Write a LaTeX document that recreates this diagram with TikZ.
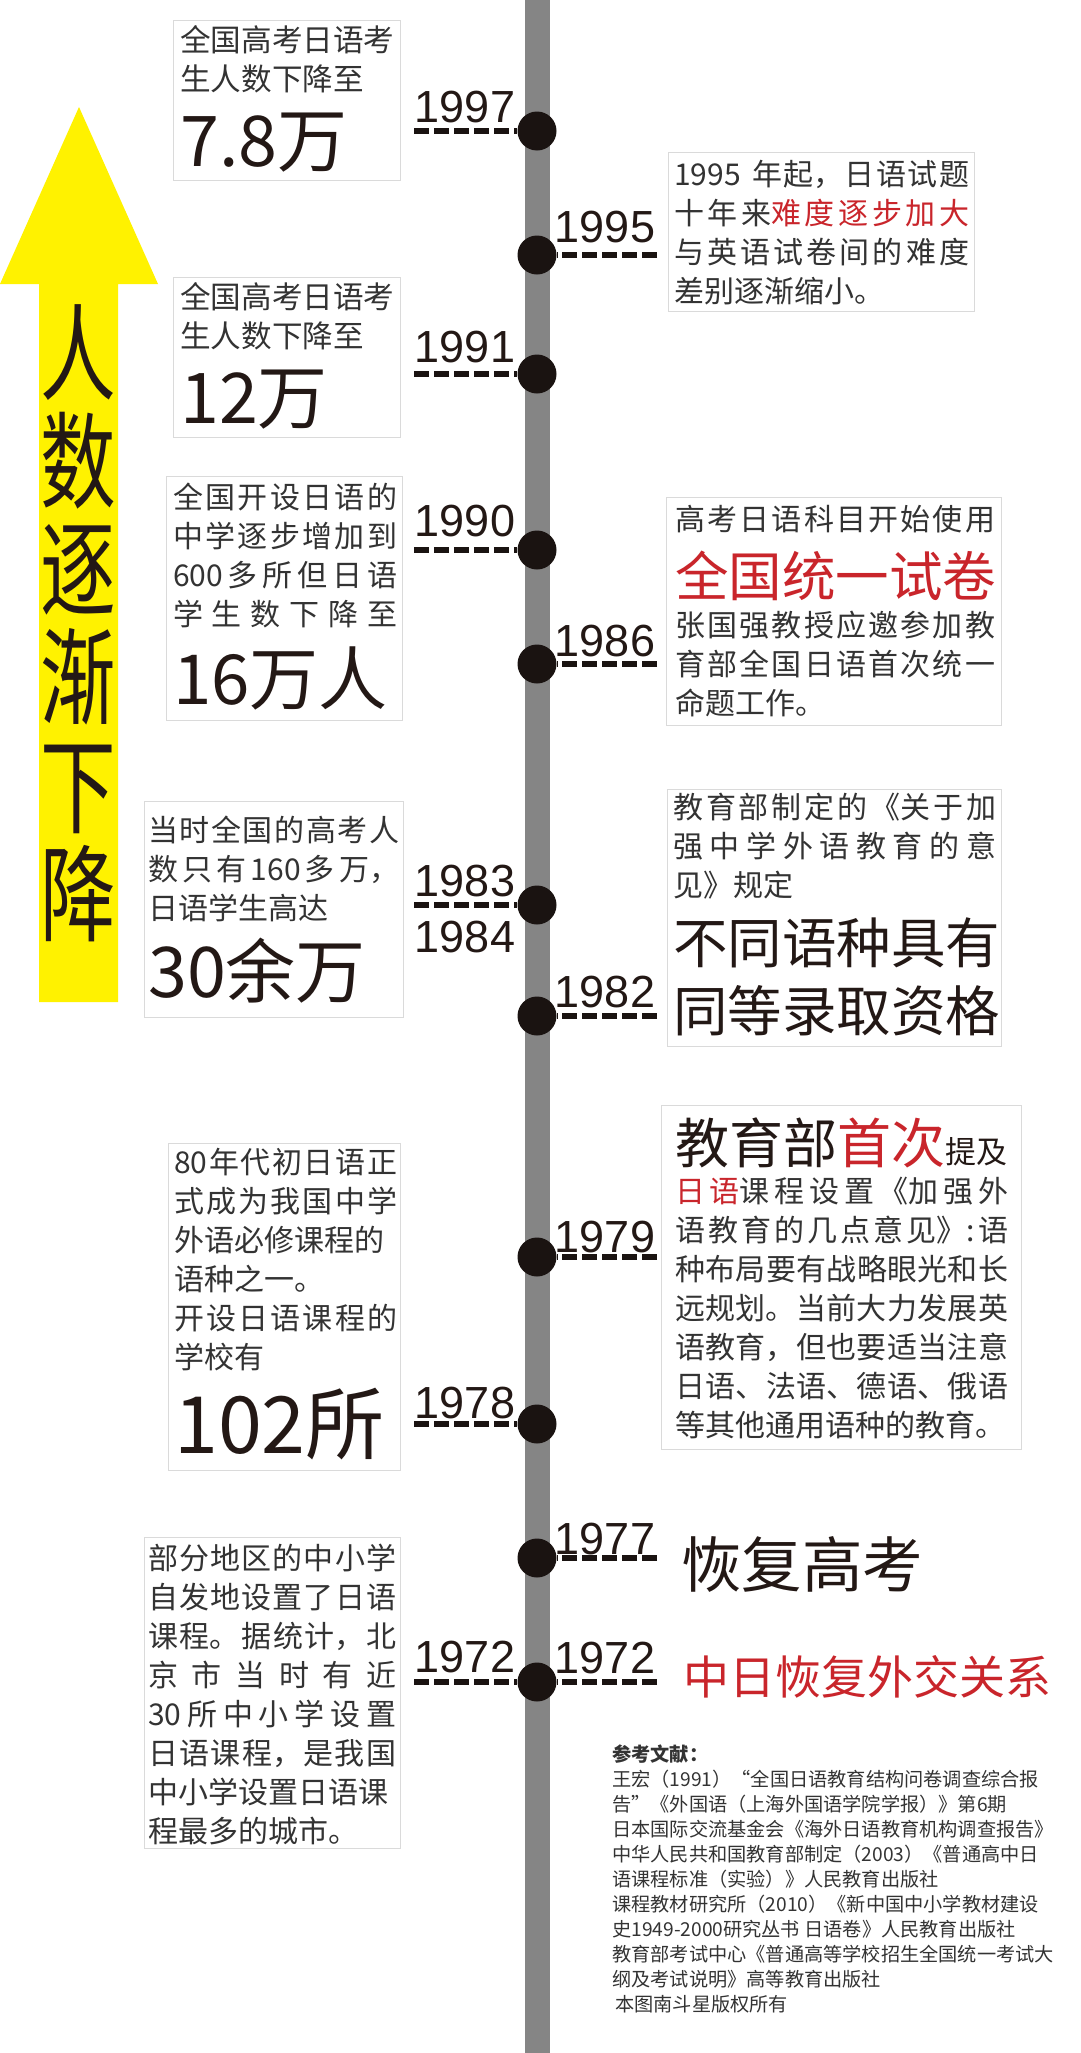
\documentclass[tikz,border=0pt]{standalone}
\usepackage{fontspec}
\setmainfont{Noto Sans CJK SC}
\newfontfamily\yearfont{Liberation Sans}
\XeTeXlinebreaklocale "zh"
\XeTeXlinebreakskip=0pt plus 1pt minus 0.3pt
\tolerance=10000
\hbadness=10000
\hfuzz=5pt
\definecolor{barcol}{HTML}{858585}
\definecolor{dotcol}{HTML}{1A1311}
\definecolor{inkcol}{HTML}{231815}
\definecolor{txtcol}{HTML}{333333}
\definecolor{redcol}{HTML}{C9252B}
\definecolor{arrowcol}{HTML}{FFF200}
\definecolor{boxcol}{HTML}{DADADA}
\newcommand\fs[2]{\fontsize{#1}{#2}\selectfont}
\newcommand\hot[1]{\textcolor{redcol}{#1}}
\tikzset{
	infobox/.style={draw=boxcol,line width=1pt,fill=white,inner sep=0pt,anchor=north west},
	blocktext/.style={anchor=north west,inner sep=0pt,text width=#1,align=justify,text=txtcol,font=\fs{30}{39}},
	bigtext/.style={anchor=west,inner sep=0pt,text=inkcol,font=\fs{#1}{#1}},
	yeardot/.style={circle,fill=dotcol,inner sep=0pt,minimum size=39pt},
	stub/.style={line width=6.5pt,dotcol,dash pattern=on 15pt off 5pt},
	yearlabel/.style={inner sep=0pt,text=inkcol,font=\yearfont\fs{45}{45}}
}
\begin{document}
\begin{tikzpicture}[x=1pt,y=-1pt]
	\useasboundingbox (0,0) rectangle (1080,2053);
	\def\barx{537}
	\def\lx{414}
	\def\rx{657}
	% big arrow
	\fill[arrowcol] (79,107)--(158,284)--(118,284)--(118,1002)--(39,1002)--(39,284)--(0,284)--cycle;
	\node[inner sep=0pt,align=center,xscale=0.72,text=inkcol,font=\fs{105}{108.2}] (trend) at (78,623) {人\\数\\逐\\渐\\下\\降};
	% time axis
	\fill[barcol] (\barx-12.5,0) rectangle (\barx+12.5,2053);
	\foreach\name/\y in {a/131,b/255,c/374,d/550,e/664,f/905,g/1016,h/1257,i/1424,j/1558,k/1682}
	{\node[yeardot] (\name) at (\barx,\y) {};}
	% year stubs on the left
	\foreach\name/\y/\year/\base in {a/131/1997/122,c/374/1991/362,d/550/1990/536,f/905/1983/896,i/1424/1978/1418,k/1682/1972/1672}
	{\coordinate (l\name) at (\lx,\y);
		\draw[stub] (l\name)--(\name);
		\node[yearlabel,anchor=base] (ly\name) at (465,\base) {\year};}
	\node[yearlabel,anchor=base] (ly84) at (465,952) {1984};
	% year stubs on the right
	\foreach\name/\y/\year/\base in {b/255/1995/242,e/664/1986/656,g/1016/1982/1007,h/1257/1979/1252,j/1558/1977/1554,k/1682/1972/1673}
	{\coordinate (r\name) at (\rx,\y);
		\draw[stub] (r\name)--(\name);
		\node[yearlabel,anchor=base] (ry\name) at (605,\base) {\year};}
	% boxes on the left
	\node[infobox,minimum width=227pt,minimum height=160pt] (box97) at (173,20) {};
	\node[blocktext=220pt,font=\fs{30.6}{39}] (txt97) at (180,25) {全国高考日语考\\生人数下降至};
	\node[bigtext=70] (big97) at (180,143) {7.8万};
	\node[infobox,minimum width=227pt,minimum height=160pt] (box91) at (173,277) {};
	\node[blocktext=220pt,font=\fs{30.6}{39}] (txt91) at (180,282) {全国高考日语考\\生人数下降至};
	\node[bigtext=70] (big91) at (180,400) {12万};
	\node[infobox,minimum width=236pt,minimum height=244pt] (box90) at (166,476) {};
	\node[blocktext=224pt] (txt90) at (173,483) {全国开设日语的\linebreak 中学逐步增加到\linebreak 600多所但日语\linebreak 学生数下降至\linebreak\null};
	\node[bigtext=69] (big90) at (173,678) {16万人};
	\node[infobox,minimum width=259pt,minimum height=216pt] (box83) at (144,801) {};
	\node[blocktext=251pt] (txt83) at (148,816) {当时全国的高考人\linebreak 数只有160多万，\linebreak 日语学生高达};
	\node[bigtext=70] (big83) at (148,971) {30余万};
	\node[infobox,minimum width=232pt,minimum height=327pt] (box80) at (168,1143) {};
	\node[blocktext=223pt] (txt80) at (174,1148) {80年代初日语正\linebreak 式成为我国中学\linebreak 外语必修课程的\\语种之一。\\开设日语课程的\linebreak 学校有};
	\node[bigtext=79] (big80) at (174,1424) {102所};
	\node[infobox,minimum width=256pt,minimum height=311pt] (box72) at (144,1537) {};
	\node[blocktext=248pt] (txt72) at (148,1544) {部分地区的中小学\linebreak 自发地设置了日语\linebreak 课程。据统计，北\linebreak 京市当时有近\linebreak 30所中小学设置\linebreak 日语课程，是我国\linebreak 中小学设置日语课\\程最多的城市。};
	% boxes on the right
	\node[infobox,minimum width=306pt,minimum height=159pt] (box95) at (668,152) {};
	\node[blocktext=295pt] (txt95) at (674,160) {1995 年起，日语试题\linebreak 十年来\hot{难度逐步加大}\linebreak 与英语试卷间的难度\linebreak 差别逐渐缩小。};
	\node[infobox,minimum width=335pt,minimum height=228pt] (box86) at (666,497) {};
	\node[blocktext=320pt] (txt86) at (675,505) {高考日语科目开始使用\linebreak\null};
	\node[bigtext=53.5] (big86) at (675,576) {\hot{全国统一试卷}};
	\node[blocktext=320pt] (more86) at (675,611) {张国强教授应邀参加教\linebreak 育部全国日语首次统一\linebreak 命题工作。};
	\node[infobox,minimum width=334pt,minimum height=257pt] (box82) at (667,789) {};
	\node[blocktext=323pt] (txt82) at (673,793) {教育部制定的《关于加\linebreak 强中学外语教育的意\linebreak 见》规定};
	\node[bigtext=54.5] (big82) at (673,943) {不同语种具有};
	\node[bigtext=54.5] (more82) at (673,1011) {同等录取资格};
	\node[infobox,minimum width=360pt,minimum height=344pt] (box79) at (661,1105) {};
	\node[bigtext=54] (big79) at (675,1143) {教育部\hot{首次}{\fs{31}{31}提及}};
	\node[blocktext=333pt] (txt79) at (675,1177) {\hot{日语}课程设置《加强外\linebreak 语教育的几点意见》:语\linebreak 种布局要有战略眼光和长\linebreak 远规划。当前大力发展英\linebreak 语教育，但也要适当注意\linebreak 日语、法语、德语、俄语\linebreak 等其他通用语种的教育。};
	% free text
	\node[bigtext=60.5] (gaokao) at (681,1564) {恢复高考};
	\node[bigtext=46] (relation) at (683,1677) {\hot{中日恢复外交关系}};
	% references
	\node[anchor=north west,inner sep=0pt,align=left,text=txtcol,font=\fs{19.2}{25}] (refs) at (612,1745) {%
		{\bfseries 参考文献：}\\
		王宏（1991）“全国日语教育结构问卷调查综合报\\
		告”《外国语（上海外国语学院学报）》第6期\\
		日本国际交流基金会《海外日语教育机构调查报告》\\
		中华人民共和国教育部制定（2003）《普通高中日\\
		语课程标准（实验）》人民教育出版社\\
		课程教材研究所（2010）《新中国中小学教材建设\\
		史1949-2000研究丛书 日语卷》人民教育出版社\\
		教育部考试中心《普通高等学校招生全国统一考试大\\
		纲及考试说明》高等教育出版社\\
		\hspace*{3pt}本图南斗星版权所有};
\end{tikzpicture}
\end{document}
